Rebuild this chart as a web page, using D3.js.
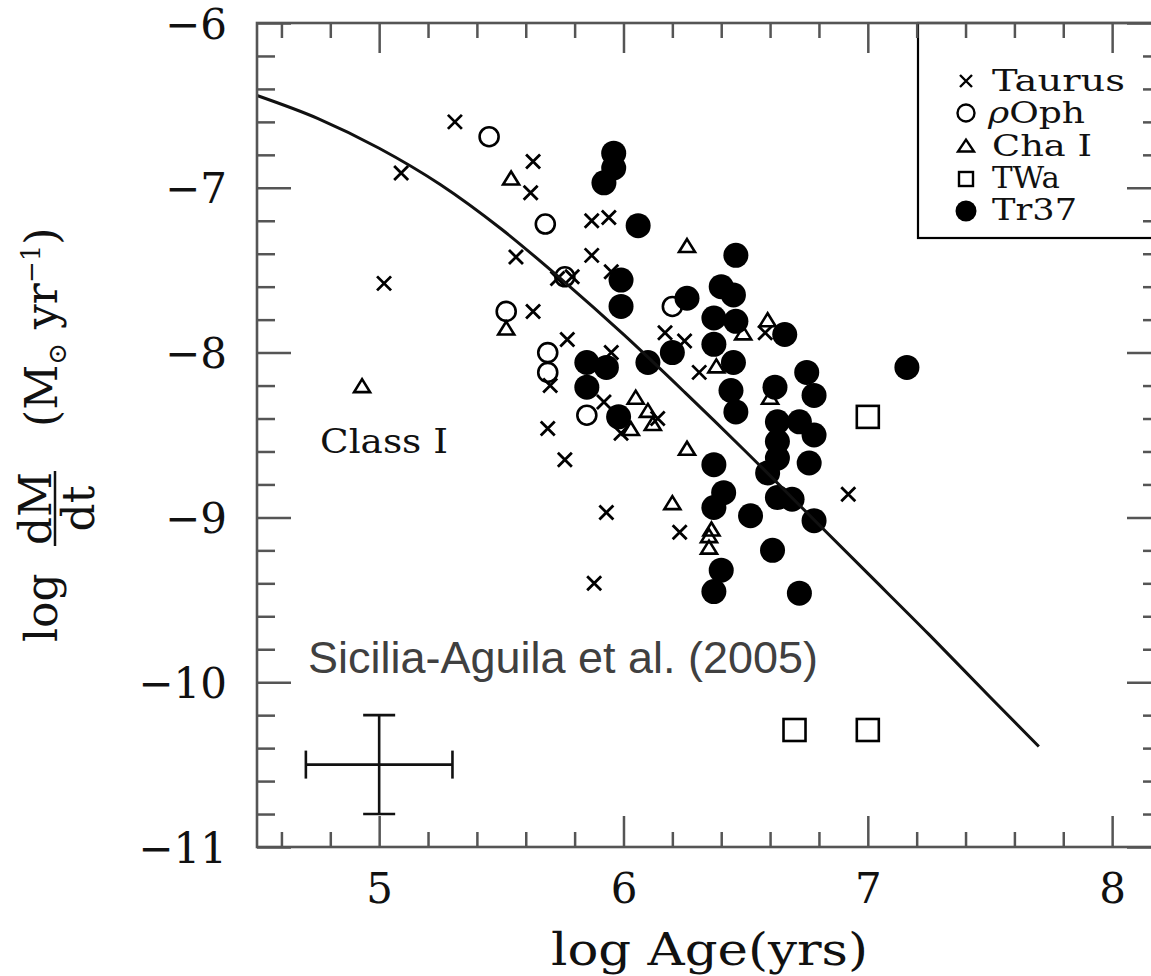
<!DOCTYPE html>
<html><head><meta charset="utf-8">
<script src="https://cdn.jsdelivr.net/npm/d3@7"></script>
<style>body{margin:0;background:#fff;overflow:hidden}</style>
</head><body>
<svg id="c" width="1151" height="976"></svg>
<script>
// ---------- data ----------
const xTicks = [5, 6, 7, 8];
const yTicks = [-6, -7, -8, -9, -10, -11];

const legendLabels = ["Taurus", "\u03C1Oph", "Cha I", "TWa", "Tr37"];

const taurusAge  = [5.31,5.09,5.63,5.62,5.87,5.94,5.56,5.87,5.95,5.73,5.79,5.02,5.63,5.77,6.17,6.25,5.95,6.31,5.70,5.92,5.69,5.99,6.14,5.76,5.93,6.23,5.88,6.92,6.58];
const taurusRate = [-6.60,-6.91,-6.84,-7.03,-7.20,-7.18,-7.42,-7.41,-7.51,-7.55,-7.54,-7.58,-7.75,-7.92,-7.88,-7.93,-8.00,-8.12,-8.20,-8.30,-8.46,-8.49,-8.40,-8.65,-8.97,-9.09,-9.40,-8.86,-7.88];

const rhoOphAge  = [5.45,5.68,5.52,5.69,5.69,5.85,6.20,5.76];
const rhoOphRate = [-6.69,-7.22,-7.75,-8.00,-8.12,-8.38,-7.72,-7.54];

const chaAge  = [5.54,6.26,5.52,4.93,6.05,6.10,6.12,6.03,6.26,6.20,6.36,6.35,6.35,6.49,6.59,6.60,6.38];
const chaRate = [-6.95,-7.36,-7.86,-8.21,-8.28,-8.36,-8.44,-8.47,-8.59,-8.92,-9.08,-9.12,-9.19,-7.89,-7.81,-8.28,-8.09];

const twaAge  = [7.00,6.70,7.00];
const twaRate = [-8.39,-10.29,-10.29];

const tr37Age  = [5.96,5.96,5.92,6.06,5.99,5.99,6.26,6.20,6.10,5.93,5.85,5.85,5.98,6.46,6.40,6.45,6.37,6.46,6.66,6.37,6.45,6.75,6.78,7.16,6.62,6.44,6.46,6.63,6.72,6.78,6.63,6.63,6.76,6.37,6.59,6.41,6.37,6.63,6.69,6.52,6.78,6.61,6.40,6.37,6.72];
const tr37Rate = [-6.79,-6.88,-6.97,-7.23,-7.56,-7.72,-7.67,-8.00,-8.06,-8.09,-8.06,-8.21,-8.39,-7.41,-7.60,-7.65,-7.79,-7.81,-7.89,-7.95,-8.06,-8.12,-8.26,-8.09,-8.21,-8.23,-8.36,-8.42,-8.42,-8.50,-8.54,-8.64,-8.67,-8.68,-8.73,-8.85,-8.94,-8.88,-8.89,-8.99,-9.02,-9.20,-9.32,-9.45,-9.46];

const curveAge  = [4.5, 4.75, 5.0, 5.25, 5.5, 5.75, 6.0, 6.25, 6.5, 6.75, 7.0, 7.25, 7.5, 7.7];
const curveRate = [-6.44,-6.58,-6.76,-6.98,-7.25,-7.56,-7.89,-8.24,-8.60,-8.97,-9.34,-9.71,-10.09,-10.39];

const errCenter = [5.0, -10.5];
const errX = 0.3, errY = 0.3;

// ---------- setup ----------
const svg = d3.select("#c");
const x = d3.scaleLinear().domain([4.5, 8.2]).range([257, 1161]);
const y = d3.scaleLinear().domain([-11, -6]).range([847, 23]);
const zip = (a, b) => a.map((v, i) => [v, b[i]]);

const xMinor = d3.range(23, 41).map(i => i / 5).filter(v => !xTicks.some(t => Math.abs(t - v) < 1e-6));
const yMinor = d3.range(-54, -30).map(i => i / 5).filter(v => !yTicks.some(t => Math.abs(t - v) < 1e-6));

const plot = svg.append("g");
const SW = 2.6;

const crossPath = s => `M${-s},${-s}L${s},${s}M${-s},${s}L${s},${-s}`;
const triPath = (w, h) => `M0,${-h*0.62}L${w/2},${h*0.38}L${-w/2},${h*0.38}Z`;

// Taurus
plot.append("g").selectAll("path").data(zip(taurusAge, taurusRate)).join("path")
  .attr("transform", d => `translate(${x(d[0])},${y(d[1])})`)
  .attr("d", crossPath(7)).attr("stroke", "#000").attr("stroke-width", 2.8).attr("fill", "none");

// rho Oph
plot.append("g").selectAll("circle").data(zip(rhoOphAge, rhoOphRate)).join("circle")
  .attr("cx", d => x(d[0])).attr("cy", d => y(d[1])).attr("r", 9.5)
  .attr("stroke", "#000").attr("stroke-width", SW).attr("fill", "none");

// Cha I
plot.append("g").selectAll("path").data(zip(chaAge, chaRate)).join("path")
  .attr("transform", d => `translate(${x(d[0])},${y(d[1])})`)
  .attr("d", triPath(16, 13)).attr("stroke", "#000").attr("stroke-width", SW).attr("fill", "none");

// TWa
plot.append("g").selectAll("rect").data(zip(twaAge, twaRate)).join("rect")
  .attr("x", d => x(d[0]) - 11).attr("y", d => y(d[1]) - 11).attr("width", 22).attr("height", 22)
  .attr("stroke", "#000").attr("stroke-width", SW).attr("fill", "none");

// Tr37
plot.append("g").selectAll("circle").data(zip(tr37Age, tr37Rate)).join("circle")
  .attr("cx", d => x(d[0])).attr("cy", d => y(d[1])).attr("r", 12.5).attr("fill", "#000");

// model curve
plot.append("path").datum(zip(curveAge, curveRate))
  .attr("d", d3.line().x(d => x(d[0])).y(d => y(d[1])).curve(d3.curveMonotoneX))
  .attr("fill", "none").attr("stroke", "#111").attr("stroke-width", 3);

// error bar
const eb = plot.append("g").attr("stroke", "#111").attr("stroke-width", 2.6);
const cx = x(errCenter[0]), cy = y(errCenter[1]);
const xl = x(errCenter[0] - errX), xr = x(errCenter[0] + errX);
const yt = y(errCenter[1] + errY), yb = y(errCenter[1] - errY);
eb.append("line").attr("x1", xl).attr("x2", xr).attr("y1", cy).attr("y2", cy);
eb.append("line").attr("x1", cx).attr("x2", cx).attr("y1", yt).attr("y2", yb);
eb.append("line").attr("x1", xl).attr("x2", xl).attr("y1", cy - 14).attr("y2", cy + 14);
eb.append("line").attr("x1", xr).attr("x2", xr).attr("y1", cy - 14).attr("y2", cy + 14);
eb.append("line").attr("x1", cx - 16).attr("x2", cx + 16).attr("y1", yt).attr("y2", yt);
eb.append("line").attr("x1", cx - 16).attr("x2", cx + 16).attr("y1", yb).attr("y2", yb);

// texts in plot
svg.append("text").attr("x", 320).attr("y", 453).text("Class I")
  .attr("font-family", "DejaVu Serif").attr("font-size", 33)
  .attr("textLength", 128).attr("lengthAdjust", "spacingAndGlyphs").attr("fill", "#111");

svg.append("text").attr("x", 308).attr("y", 673).text("Sicilia-Aguila et al. (2005)")
  .attr("font-family", "Liberation Sans, Arial, sans-serif").attr("font-size", 45)
  .attr("textLength", 510).attr("lengthAdjust", "spacingAndGlyphs").attr("fill", "#404040");

// ---------- legend ----------
const lg = svg.append("g");
lg.append("rect").attr("x", 918).attr("y", 23).attr("width", 260).attr("height", 215)
  .attr("fill", "#fff").attr("stroke", "#000").attr("stroke-width", 2.2);
const legY = [81, 113, 147, 179, 211];
const legBase = [91, 123, 156, 188, 220];
const legW = [133, 97, 100, 68, 85];
const lx = 966;
lg.append("path").attr("transform", `translate(${lx},${legY[0]})`).attr("d", crossPath(6))
  .attr("stroke", "#000").attr("stroke-width", 2.4);
lg.append("circle").attr("cx", lx).attr("cy", legY[1]).attr("r", 8.5)
  .attr("stroke", "#000").attr("stroke-width", 2.4).attr("fill", "none");
lg.append("path").attr("transform", `translate(${lx},${legY[2]})`).attr("d", triPath(16, 12))
  .attr("stroke", "#000").attr("stroke-width", 2.4).attr("fill", "none");
lg.append("rect").attr("x", lx - 7).attr("y", legY[3] - 7).attr("width", 14).attr("height", 14)
  .attr("stroke", "#000").attr("stroke-width", 2.4).attr("fill", "none");
lg.append("circle").attr("cx", lx).attr("cy", legY[4]).attr("r", 10.5).attr("fill", "#000");
lg.selectAll("text.lab").data(legendLabels).join("text").attr("class", "lab")
  .attr("x", (d, i) => i === 1 ? 988 : 992).attr("y", (d, i) => legBase[i])
  .attr("font-family", "DejaVu Serif").attr("font-size", 29).attr("fill", "#111")
  .attr("textLength", (d, i) => legW[i]).attr("lengthAdjust", "spacingAndGlyphs")
  .each(function(d) {
    const t = d3.select(this);
    if (d.startsWith("\u03C1")) {
      t.append("tspan").attr("font-style", "italic").text("\u03C1");
      t.append("tspan").text(d.slice(1));
    } else t.text(d);
  });

// ---------- frame & axes ----------
const AX = "#555";
function styleAxis(g) {
  g.select(".domain").remove();
  g.selectAll(".tick line").attr("stroke", AX).attr("stroke-width", 2.5);
}
// bottom
svg.append("g").attr("transform", "translate(0,847)")
  .call(d3.axisBottom(x).tickValues(xMinor).tickSizeInner(-15).tickSizeOuter(0).tickFormat(""))
  .call(styleAxis);
svg.append("g").attr("transform", "translate(0,847)")
  .call(d3.axisBottom(x).tickValues(xTicks).tickSizeInner(-31).tickSizeOuter(0).tickFormat(d3.format("d")))
  .call(styleAxis)
  .call(g => g.selectAll(".tick text").attr("y", 56).attr("dy", null)
    .attr("font-family", "DejaVu Serif").attr("font-size", 42).attr("fill", "#111"));
// top
svg.append("g").attr("transform", "translate(0,23)")
  .call(d3.axisTop(x).tickValues(xMinor).tickSizeInner(-15).tickSizeOuter(0).tickFormat(""))
  .call(styleAxis);
svg.append("g").attr("transform", "translate(0,23)")
  .call(d3.axisTop(x).tickValues(xTicks).tickSizeInner(-30).tickSizeOuter(0).tickFormat(""))
  .call(styleAxis);
// left
svg.append("g").attr("transform", "translate(257,0)")
  .call(d3.axisLeft(y).tickValues(yMinor).tickSizeInner(-18).tickSizeOuter(0).tickFormat(""))
  .call(styleAxis);
svg.append("g").attr("transform", "translate(257,0)")
  .call(d3.axisLeft(y).tickValues(yTicks).tickSizeInner(-34).tickSizeOuter(0).tickFormat(d3.format("d")))
  .call(styleAxis)
  .call(g => g.selectAll(".tick text").attr("x", -30).attr("dy", null).attr("y", 15)
    .attr("font-family", "DejaVu Serif").attr("font-size", 42).attr("fill", "#111"));
// right
svg.append("g").attr("transform", "translate(1161,0)")
  .call(d3.axisRight(y).tickValues(yMinor).tickSizeInner(-18).tickSizeOuter(0).tickFormat(""))
  .call(styleAxis);
svg.append("g").attr("transform", "translate(1161,0)")
  .call(d3.axisRight(y).tickValues(yTicks).tickSizeInner(-34).tickSizeOuter(0).tickFormat(""))
  .call(styleAxis);

svg.append("rect").attr("x", 257).attr("y", 23).attr("width", 904).attr("height", 824)
  .attr("fill", "none").attr("stroke", AX).attr("stroke-width", 2.6);

// ---------- axis titles ----------
svg.append("text").attr("x", 551).attr("y", 965).text("log  Age(yrs)")
  .attr("font-family", "DejaVu Serif").attr("font-size", 44).attr("fill", "#111")
  .attr("textLength", 317).attr("lengthAdjust", "spacingAndGlyphs");

const yl = svg.append("g").attr("transform", "translate(57,433) rotate(-90)")
  .attr("font-family", "DejaVu Serif").attr("font-size", 44).attr("fill", "#111");
yl.append("text").attr("x", -209).attr("y", 0).text("log");
yl.append("text").attr("x", -75.5).attr("y", -6).attr("text-anchor", "middle").text("dM");
yl.append("line").attr("x1", -113).attr("x2", -38).attr("y1", -2).attr("y2", -2)
  .attr("stroke", "#111").attr("stroke-width", 2.5);
yl.append("text").attr("x", -75.5).attr("y", 37).attr("text-anchor", "middle").text("dt");
const unit = yl.append("text").attr("x", 6).attr("y", 0);
unit.append("tspan").text("(M");
unit.append("tspan").text("\u2299").attr("font-size", 26).attr("dy", 9);
unit.append("tspan").text(" yr").attr("dy", -9);
unit.append("tspan").text("\u22121").attr("font-size", 26).attr("dy", -17);
unit.append("tspan").text(")").attr("dy", 17);
</script>
</body></html>
